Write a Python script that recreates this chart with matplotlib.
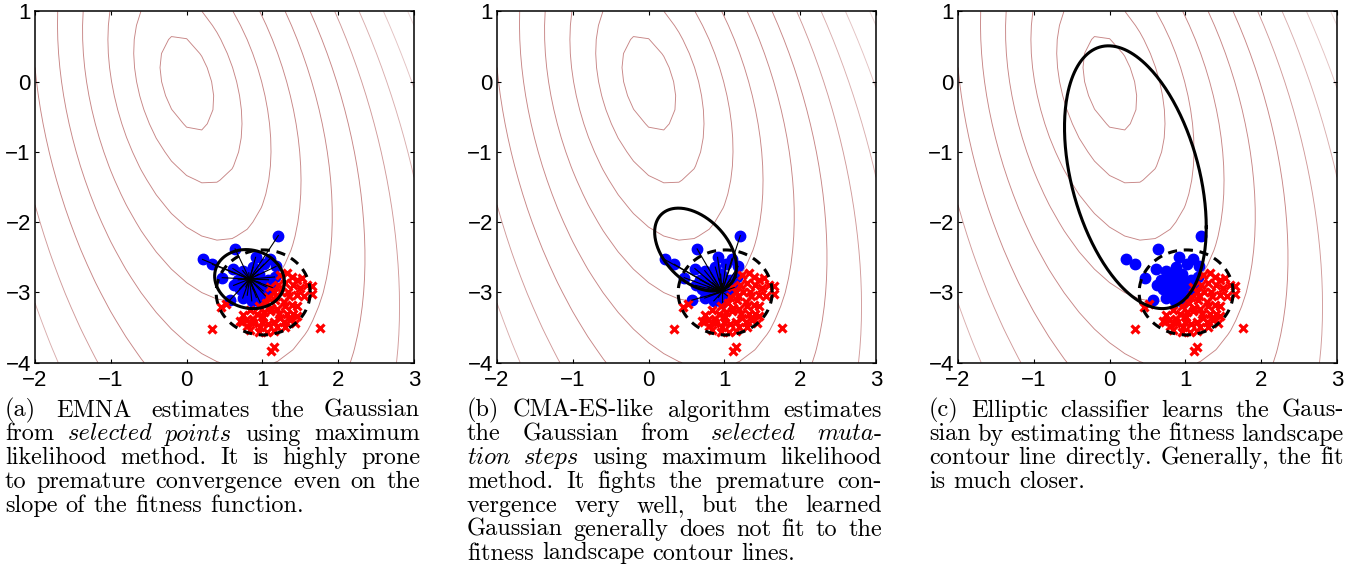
import numpy as np
import matplotlib.pyplot as plt
from matplotlib.font_manager import FontProperties

# ---- data ----
# population points (same sample in all three panels)
blue_x = [0.21, 0.34, 0.64, 1.21, 0.91, 1.10, 1.02, 1.18, 0.61, 0.74, 0.88, 0.47, 0.57, 0.62, 0.76,
          0.84, 0.97, 1.08, 1.16, 0.70, 0.88, 1.01, 1.13, 0.80, 0.92, 1.04, 0.86, 0.97, 0.74, 0.95,
          0.68, 0.82, 0.93, 1.05, 0.90, 0.78]
blue_y = [-2.53, -2.60, -2.38, -2.19, -2.50, -2.52, -2.60, -2.63, -2.66, -2.69, -2.64, -2.79, -3.11, -2.90, -2.80,
          -2.86, -2.86, -2.82, -2.78, -2.95, -2.96, -2.98, -2.93, -3.04, -3.07, -3.05, -3.12, -3.14, -3.08, -2.74,
          -2.82, -2.72, -2.80, -2.92, -3.00, -2.92]

red_x = [1.23, 1.32, 1.39, 1.45, 1.52, 1.30, 1.41, 1.50, 1.34, 1.45, 1.59, 1.21, 1.15, 1.65, 1.66,
         1.08, 1.17, 1.28, 1.39, 1.45, 1.19, 1.10, 1.32, 1.45, 1.23, 1.37, 1.15, 1.01, 0.93, 0.84,
         0.75, 0.79, 0.88, 0.97, 0.73, 0.84, 0.95, 1.06, 1.19, 1.30, 1.43, 0.46, 0.52, 1.15, 1.11,
         0.34, 1.76, 1.10, 1.18, 1.25, 1.05, 0.95, 1.30, 1.35, 1.22, 0.88, 1.00, 1.08, 1.40, 1.55,
         1.15, 0.80, 0.70, 1.28, 1.12, 1.02]
red_y = [-2.75, -2.73, -2.78, -2.82, -2.80, -2.87, -2.89, -2.94, -2.99, -3.04, -2.89, -2.89, -2.99, -2.91, -3.02,
         -3.06, -3.11, -3.13, -3.18, -3.20, -3.23, -3.27, -3.30, -3.34, -3.37, -3.39, -3.42, -3.35, -3.30, -3.25,
         -3.32, -3.39, -3.44, -3.49, -3.42, -3.54, -3.56, -3.57, -3.49, -3.49, -3.44, -3.21, -3.17, -3.77, -3.83,
         -3.52, -3.50, -2.92, -3.05, -3.00, -3.15, -3.20, -3.20, -3.05, -3.30, -3.38, -3.42, -3.45, -3.30, -3.05,
         -3.55, -3.48, -3.40, -3.42, -3.22, -3.28]

# sampling Gaussian (dashed) and the three learned Gaussians (solid): centre, sx, sy, rho
old_gauss = (1.01, -3.00, 0.62, 0.605, 0.0)
emna_gauss = (0.83, -2.81, 0.46, 0.42, -0.10)
cma_gauss = (0.62, -2.39, 0.54, 0.59, -0.42)
ellc_gauss = (0.34, -1.36, 0.935, 1.87, -0.38)
emna_mean = (0.83, -2.81)
old_mean = (0.97, -2.99)

# fitness landscape: contours around (0, 0)
land_a, land_b = 0.33, 0.68
land_shear = -0.2
land_grow = 0.045
levels = np.arange(1, 12)

# captions: each word is a list of (text, italic) pieces
R, I = 0, 1
captions = [
    [[[("(a)", R)], [("EMNA", R)], [("estimates", R)], [("the", R)], [("Gaussian", R)]],
     [[("from", R)], [("selected", I)], [("points", I)], [("using", R)], [("maximum", R)]],
     [[("likelihood", R)], [("method.", R)], [("It", R)], [("is", R)], [("highly", R)], [("prone", R)]],
     [[("to", R)], [("premature", R)], [("convergence", R)], [("even", R)], [("on", R)], [("the", R)]],
     [[("slope", R)], [("of", R)], [("the", R)], [("fitness", R)], [("function.", R)]]],
    [[[("(b)", R)], [("CMA-ES-like", R)], [("algorithm", R)], [("estimates", R)]],
     [[("the", R)], [("Gaussian", R)], [("from", R)], [("selected", I)], [("muta", I), ("-", R)]],
     [[("tion", I)], [("steps", I)], [("using", R)], [("maximum", R)], [("likelihood", R)]],
     [[("method.", R)], [("It", R)], [("fights", R)], [("the", R)], [("premature", R)], [("con-", R)]],
     [[("vergence", R)], [("very", R)], [("well,", R)], [("but", R)], [("the", R)], [("learned", R)]],
     [[("Gaussian", R)], [("generally", R)], [("does", R)], [("not", R)], [("fit", R)], [("to", R)], [("the", R)]],
     [[("fitness", R)], [("landscape", R)], [("contour", R)], [("lines.", R)]]],
    [[[("(c)", R)], [("Elliptic", R)], [("classifier", R)], [("learns", R)], [("the", R)], [("Gaus-", R)]],
     [[("sian", R)], [("by", R)], [("estimating", R)], [("the", R)], [("fitness", R)], [("landscape", R)]],
     [[("contour", R)], [("line", R)], [("directly.", R)], [("Generally,", R)], [("the", R)], [("fit", R)]],
     [[("is", R)], [("much", R)], [("closer.", R)]]],
]


def gauss_outline(g, n=300):
    cx, cy, sx, sy, rho = g
    cov = np.array([[sx * sx, rho * sx * sy], [rho * sx * sy, sy * sy]])
    L = np.linalg.cholesky(cov)
    t = np.linspace(0, 2 * np.pi, n)
    pts = L @ np.vstack([np.cos(t), np.sin(t)])
    return pts[0] + cx, pts[1] + cy


W, H = 1357, 568
fig = plt.figure(figsize=(W / 100, H / 100), dpi=100)

gx = np.linspace(-2, 3, 26)
gy = np.linspace(-4, 1, 26)
X, Y = np.meshgrid(gx, gy)
F = np.sqrt(((X - land_shear * Y) / land_a) ** 2 + (Y / land_b) ** 2) * np.exp(land_grow * Y)

lev_cols = []
for k in levels:
    f = min(max((k - 6) / 5.5, 0), 1)
    lev_cols.append((0.78 + 0.2 * f, 0.52 + 0.44 * f, 0.52 + 0.44 * f))

ax_left = [35, 497, 958]
axes = []
for i in range(3):
    ax = fig.add_axes([ax_left[i] / W, 1 - 362.7 / H, 379 / W, 351.3 / H])
    ax.contour(X, Y, F, levels=levels, colors=lev_cols, linewidths=0.65, zorder=1)
    ax.plot(blue_x, blue_y, 'o', color='#0000ff', mec='#0000ff', ms=7.5, zorder=3)
    ax.plot(red_x, red_y, 'x', color='#ff0000', ms=6.3, mew=2.3, zorder=4)
    ox, oy = gauss_outline(old_gauss)
    ax.plot(ox, oy, color='k', lw=2.2, ls=(0, (3.0, 2.2)), zorder=6)
    ax.set_xlim(-2, 3)
    ax.set_ylim(-4, 1)
    ax.set_xticks([-2, -1, 0, 1, 2, 3])
    ax.set_yticks([-4, -3, -2, -1, 0, 1])
    ax.set_xticklabels(['\u22122', '\u22121', '0', '1', '2', '3'])
    ax.set_yticklabels(['\u22124', '\u22123', '\u22122', '\u22121', '0', '1'])
    ax.tick_params(direction='in', length=3, width=0.8, top=True, right=True, labelsize=16)
    ax.tick_params(axis='x', pad=5)
    ax.tick_params(axis='y', pad=3)
    for lab in ax.get_xticklabels() + ax.get_yticklabels():
        lab.set_family('Liberation Sans')
    for s in ax.spines.values():
        s.set_linewidth(1.1)
    axes.append(ax)

# (a) EMNA: lines from the new mean to the selected points
ax = axes[0]
for bx, by in zip(blue_x, blue_y):
    ax.plot([emna_mean[0], bx], [emna_mean[1], by], color='k', lw=0.8, zorder=5)
ex, ey = gauss_outline(emna_gauss)
ax.plot(ex, ey, color='k', lw=2.2, zorder=7)

# (b) CMA-ES-like: mutation steps from the old mean
ax = axes[1]
for bx, by in zip(blue_x, blue_y):
    ax.plot([old_mean[0], bx], [old_mean[1], by], color='k', lw=0.8, zorder=5)
ex, ey = gauss_outline(cma_gauss)
ax.plot(ex, ey, color='k', lw=2.2, zorder=7)

# (c) elliptic classifier
ax = axes[2]
ex, ey = gauss_outline(ellc_gauss)
ax.plot(ex, ey, color='k', lw=2.2, zorder=7)

# justified captions
fsize = 17.5
fp_rm = FontProperties(family='cmr10', size=fsize)
fp_it = FontProperties(family='cmmi10', size=fsize)
renderer = fig.canvas.get_renderer()
cap_left = [5, 467, 929]
cap_width = 415
line0 = 416.7
line_step = 23.8


def text_w(s, fp):
    t = fig.text(0, 0, s, fontproperties=fp)
    w = t.get_window_extent(renderer).width
    t.remove()
    return w


space_w = text_w('a a', fp_rm) - text_w('aa', fp_rm)

for c, lines in enumerate(captions):
    for j, words in enumerate(lines):
        pieces = []
        wwidths = []
        for word in words:
            wp = []
            tot = 0
            for s, it in word:
                fp = fp_it if it else fp_rm
                t = fig.text(0, 0, s, fontproperties=fp, va='baseline', ha='left')
                w = t.get_window_extent(renderer).width
                wp.append((t, w))
                tot += w
            pieces.append(wp)
            wwidths.append(tot)
        if j == len(lines) - 1:
            gap = space_w
        else:
            gap = (cap_width - sum(wwidths)) / (len(words) - 1)
        x = cap_left[c]
        yb = line0 + j * line_step
        for wp, tot in zip(pieces, wwidths):
            xx = x
            for t, w in wp:
                t.set_position((xx / W, 1 - yb / H))
                xx += w
            x += tot + gap

fig.savefig('out.png', dpi=100)
